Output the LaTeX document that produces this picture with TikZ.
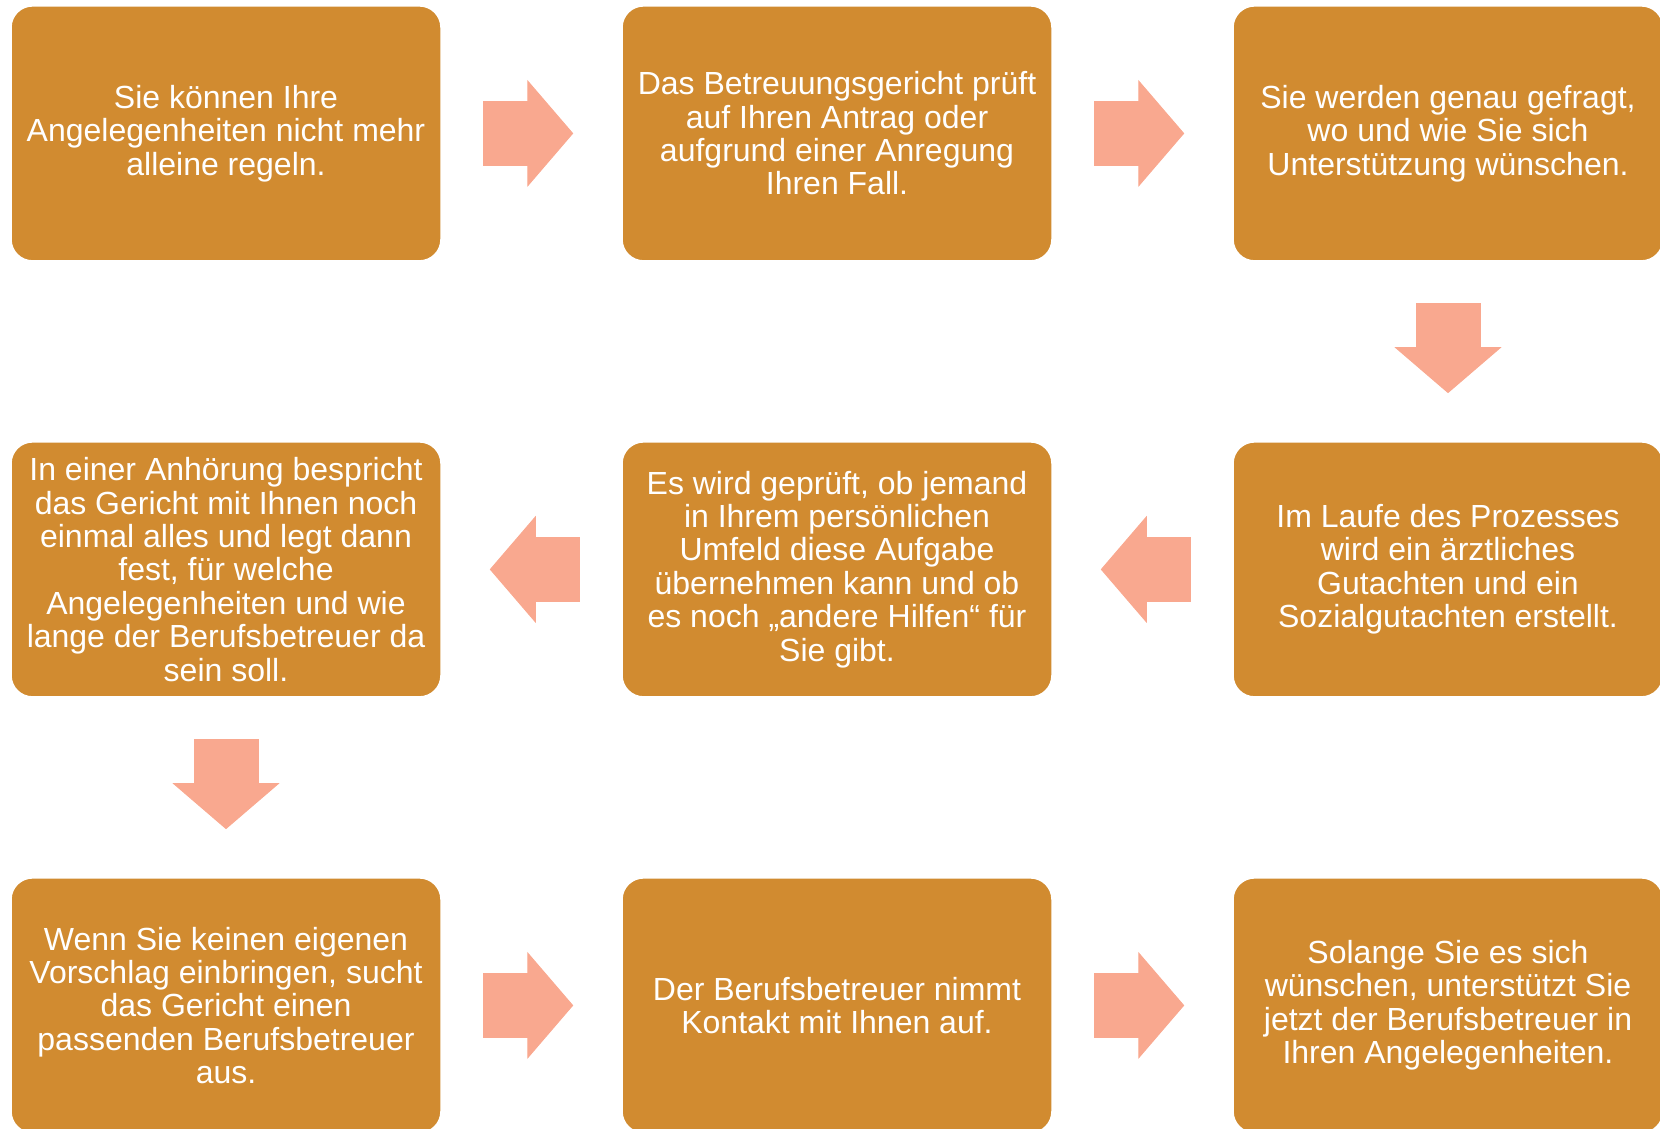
\documentclass[tikz,border=0pt]{standalone}
\usepackage{fontspec}
\setmainfont{Liberation Sans}
\usepackage{xcolor}
\usetikzlibrary{arrows.meta,positioning}

\definecolor{boxorange}{HTML}{D18B30}
\definecolor{arrowpink}{HTML}{F9A88F}

\begin{document}
\begin{tikzpicture}[
  node distance=177.5pt and 177.5pt,
  step box/.style={draw=white, line width=2.5pt, fill=boxorange, rounded corners=22pt,
    minimum width=431pt, minimum height=256pt, align=center, text=white, inner sep=0pt,
    font=\fontsize{32}{33.4}\selectfont},
  bigarr/.style={draw=arrowpink, line width=65pt,
    -{Triangle[width=107pt, length=46pt, line width=1pt]},
    shorten <=40.5pt, shorten >=47pt}
]
  \useasboundingbox (0pt,0pt) rectangle (1660pt,-1128pt);

  \node[step box] (antrag) at (226pt,-133.4pt) {Sie können Ihre\\Angelegenheiten nicht mehr\\alleine regeln.};
  \node[step box, right=of antrag] (pruefung) {Das Betreuungsgericht prüft\\auf Ihren Antrag oder\\aufgrund einer Anregung\\Ihren Fall.};
  \node[step box, right=of pruefung] (befragung) {Sie werden genau gefragt,\\wo und wie Sie sich\\Unterstützung wünschen.};
  \node[step box, below=of befragung] (gutachten) {Im Laufe des Prozesses\\wird ein ärztliches\\Gutachten und ein\\Sozialgutachten erstellt.};
  \node[step box, below=of pruefung] (umfeld) {Es wird geprüft, ob jemand\\in Ihrem persönlichen\\Umfeld diese Aufgabe\\übernehmen kann und ob\\es noch „andere Hilfen“ für\\Sie gibt.};
  \node[step box, below=of antrag] (anhoerung) {In einer Anhörung bespricht\\das Gericht mit Ihnen noch\\einmal alles und legt dann\\fest, für welche\\Angelegenheiten und wie\\lange der Berufsbetreuer da\\sein soll.};
  \node[step box, below=of anhoerung] (vorschlag) {Wenn Sie keinen eigenen\\Vorschlag einbringen, sucht\\das Gericht einen\\passenden Berufsbetreuer\\aus.};
  \node[step box, right=of vorschlag] (kontakt) {Der Berufsbetreuer nimmt\\Kontakt mit Ihnen auf.};
  \node[step box, right=of kontakt] (unterstuetzung) {Solange Sie es sich\\wünschen, unterstützt Sie\\jetzt der Berufsbetreuer in\\Ihren Angelegenheiten.};

  \draw[bigarr] (antrag) -- (pruefung);
  \draw[bigarr] (pruefung) -- (befragung);
  \draw[bigarr] (befragung) -- (gutachten);
  \draw[bigarr] (gutachten) -- (umfeld);
  \draw[bigarr] (umfeld) -- (anhoerung);
  \draw[bigarr] (anhoerung) -- (vorschlag);
  \draw[bigarr] (vorschlag) -- (kontakt);
  \draw[bigarr] (kontakt) -- (unterstuetzung);
\end{tikzpicture}
\end{document}
